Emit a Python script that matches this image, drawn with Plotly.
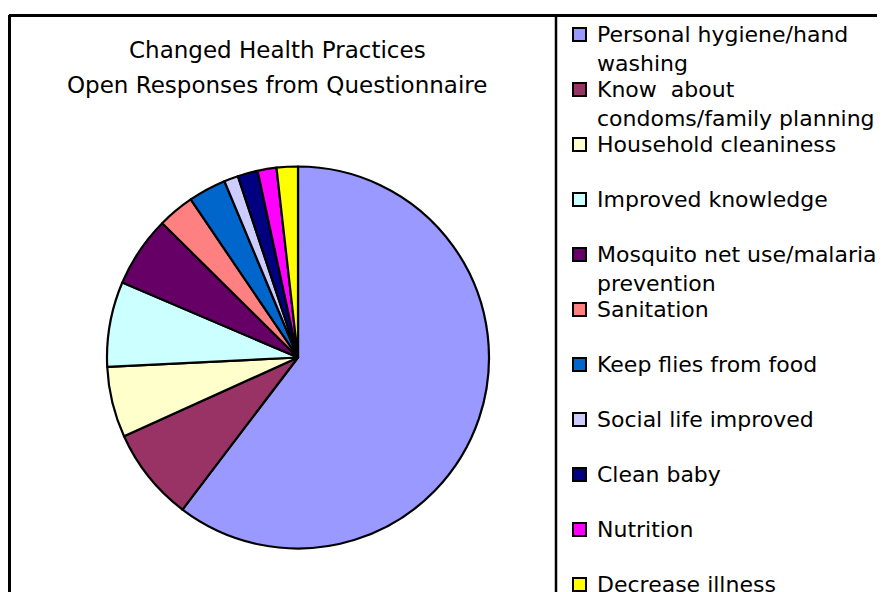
import plotly.graph_objects as go

# ---- data (% of responses) ----
categories = [
    "Personal hygiene/hand washing",
    "Know about condoms/family planning",
    "Household cleaniness",
    "Improved knowledge",
    "Mosquito net use/malaria prevention",
    "Sanitation",
    "Keep flies from food",
    "Social life improved",
    "Clean baby",
    "Nutrition",
    "Decrease illness",
]
legend_labels = [
    "Personal hygiene/hand<br>washing",
    "Know  about<br>condoms/family planning",
    "Household cleaniness",
    "Improved knowledge",
    "Mosquito net use/malaria<br>prevention",
    "Sanitation",
    "Keep flies from food",
    "Social life improved",
    "Clean baby",
    "Nutrition",
    "Decrease illness",
]
values = [60.4, 7.9, 6.0, 7.2, 6.0, 3.1, 3.2, 1.2, 1.7, 1.6, 1.8]
colors = ["#9999FF", "#993366", "#FFFFCC", "#CCFFFF", "#660066", "#FF8080",
          "#0066CC", "#CCCCFF", "#000080", "#FF00FF", "#FFFF00"]
title_lines = ["Changed Health Practices", "Open Responses from Questionnaire"]

W, H = 885, 592
FONT = "DejaVu Sans, Arial, sans-serif"
OFF = 8  # page body margin

def px(x):
    return (x - OFF) / W

def py(y):
    return 1 - (y - OFF) / H

cx, cy, r = 298, 357.5, 191

fig = go.Figure(go.Pie(
    labels=categories,
    values=values,
    sort=False,
    direction="clockwise",
    rotation=0,
    marker=dict(colors=colors, line=dict(color="black", width=2.2)),
    textinfo="none",
    hoverinfo="label+percent",
    showlegend=False,
    domain=dict(x=[px(cx - r), px(cx + r)], y=[py(cy + r), py(cy - r)]),
))

shapes = [
    dict(type="line", xref="paper", yref="paper", x0=px(9), x1=1.01, y0=py(15.5), y1=py(15.5),
         line=dict(color="black", width=3)),
    dict(type="line", xref="paper", yref="paper", x0=px(9.5), x1=px(9.5), y0=py(15), y1=-0.01,
         line=dict(color="black", width=3)),
    dict(type="line", xref="paper", yref="paper", x0=px(556), x1=px(556), y0=py(15), y1=-0.01,
         line=dict(color="black", width=2.5)),
]

annotations = []
# title
for i, t in enumerate(title_lines):
    annotations.append(dict(
        text=t, xref="paper", yref="paper", x=px(277), y=py(50 + 35 * i),
        xanchor="center", yanchor="middle", showarrow=False,
        font=dict(family=FONT, size=23, color="black"),
    ))

# legend (built from the category list and colours)
y0, pitch = 34.5, 55
for i, (lab, col) in enumerate(zip(legend_labels, colors)):
    yc = y0 + pitch * i
    shapes.append(dict(type="rect", xref="paper", yref="paper",
                       x0=px(573), x1=px(586), y0=py(yc + 6.5), y1=py(yc - 6.5),
                       fillcolor=col, line=dict(color="black", width=2)))
    annotations.append(dict(
        text=lab, xref="paper", yref="paper", x=px(596), y=py(yc - 14),
        xanchor="left", yanchor="top", align="left", showarrow=False,
        font=dict(family=FONT, size=22, color="black"), borderpad=0,
    ))

fig.update_layout(
    width=W, height=H,
    margin=dict(l=0, r=0, t=0, b=0),
    paper_bgcolor="white", plot_bgcolor="white",
    shapes=shapes, annotations=annotations,
    showlegend=False,
)

fig.write_html("out.html")
